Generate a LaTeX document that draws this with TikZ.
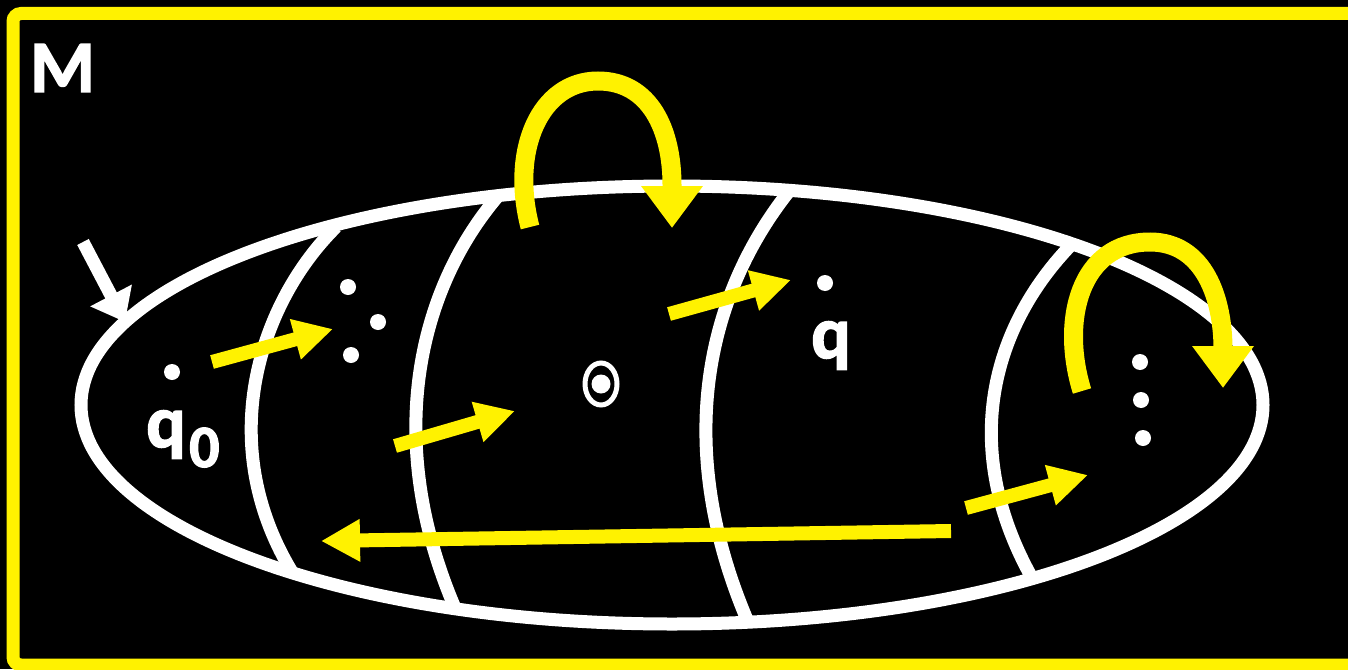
\documentclass[tikz,border=0pt]{standalone}
\usepackage{fontspec}
\setmainfont{Carlito}[BoldFeatures={FakeBold=2}]
\usetikzlibrary{arrows.meta}
\begin{document}
\begin{tikzpicture}[x=1pt,y=-1pt,
  wline/.style={white,line width=13pt},
  yarrow/.style={yellow,line width=14pt,-{Triangle[length=39pt,width=39pt]}},
  yloop/.style={yellow,line width=19pt,-{Triangle[length=42pt,width=59pt]}},
  wdot/.style={fill=white,draw=none},
  lbl/.style={text=white,inner sep=0pt,anchor=base west,font=\fontsize{74}{74}\selectfont\bfseries},
  sublbl/.style={text=white,inner sep=0pt,anchor=base west,font=\fontsize{60}{60}\selectfont\bfseries}]
\useasboundingbox (0,0) rectangle (1348,669);
\fill[black] (0,0) rectangle (1348,669);
% frame
\draw[yellow,line width=13pt,rounded corners=8pt] (13,13.5) rectangle (1370,665);
% set ellipse
\draw[wline] (672,405) ellipse [x radius=591,y radius=219];
% dividing curves
\draw[wline] (336,227) .. controls (262,300) and (212,440) .. (292,572);
\draw[wline] (498,196) .. controls (418,290) and (383,440) .. (455,608);
\draw[wline] (790,190) .. controls (710,290) and (670,440) .. (748,622);
\draw[wline] (1072,244) .. controls (998,320) and (955,440) .. (1032,578);
% white entry arrow
\coordinate (ws) at (83,242);
\coordinate (we) at (125,322);
\draw[white,line width=13pt,-{Triangle[length=30pt,width=45pt]}] (ws) -- (we);
% dots
\fill[wdot] (172,372) circle (8);
\fill[wdot] (348,287) circle (8);
\fill[wdot] (378,322) circle (8);
\fill[wdot] (351,355) circle (8);
\fill[wdot] (825,283) circle (8);
\fill[wdot] (1140,362) circle (8);
\fill[wdot] (1141,400) circle (8);
\fill[wdot] (1143,438) circle (8);
% center symbol
\draw[white,line width=5pt] (601,384) ellipse [x radius=16,y radius=21];
\fill[wdot] (601,384) circle (9.5);
% labels
\node[lbl] (M) at (30,92) {M};
\node[lbl] (q0) at (146,447) {q};
\node[sublbl] (sub0) at (189,467) {0};
\node[lbl] (q) at (811,358) {q};
% straight yellow arrows
\coordinate (a1s) at (212,362); \coordinate (a1e) at (333,329);
\coordinate (a2s) at (395,446); \coordinate (a2e) at (515,411);
\coordinate (a3s) at (669,314); \coordinate (a3e) at (791,280);
\coordinate (a4s) at (966,508); \coordinate (a4e) at (1088,475);
\coordinate (a5s) at (951,531); \coordinate (a5e) at (321,541);
\draw[yarrow] (a1s) -- (a1e);
\draw[yarrow] (a2s) -- (a2e);
\draw[yarrow] (a3s) -- (a3e);
\draw[yarrow] (a4s) -- (a4e);
\draw[yarrow,-{Triangle[length=39pt,width=40pt]}] (a5s) -- (a5e);
% self loops
\draw[yloop] (530,227) .. controls (510,150) and (540,81) .. (598,81)
   .. controls (650,81) and (672,130) .. (672,185) -- (672,228);
\draw[yloop] (1082,391) .. controls (1060,320) and (1080,242) .. (1150,242)
   .. controls (1205,242) and (1223,300) .. (1223,349) -- (1223,388);
\end{tikzpicture}
\end{document}
